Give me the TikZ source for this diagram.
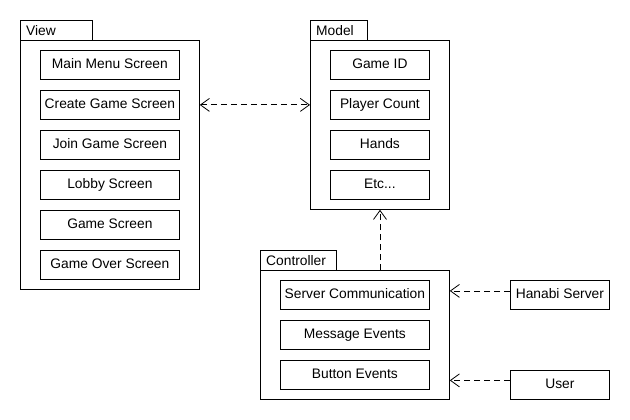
\documentclass[tikz,border=0pt]{standalone}
\usepackage{fontspec}
\setmainfont{Liberation Sans}
\usetikzlibrary{arrows.meta}
\begin{document}
\begin{tikzpicture}[x=1pt,y=-1pt,
  every node/.style={font=\fontsize{13.8}{16}\selectfont},
  item/.style={draw,line width=0.8pt,minimum width=#1,minimum height=29pt,inner sep=0pt,anchor=north west,text height=10pt,text depth=2.5pt},
  item/.default=139pt,
  pkg/.style={draw,line width=0.8pt,anchor=north west,inner sep=0pt},
  tab/.style={draw,line width=0.8pt,anchor=north west,inner sep=0pt,minimum height=20pt,text depth=0pt},
  tablabel/.style={anchor=base west,inner sep=0pt},
  dep/.style={line width=0.8pt,dash pattern=on 6pt off 4pt,-{Straight Barb[length=9pt,width=13pt]}},
  bidep/.style={line width=0.8pt,dash pattern=on 6pt off 4pt,{Straight Barb[length=9pt,width=13pt]}-{Straight Barb[length=9pt,width=13pt]}}
]
\useasboundingbox (0,0) rectangle (630,420);
% View
\node[tab,minimum width=72pt] (viewtab) at (20,20) {};
\node[tablabel] at (26,35.5) {View};
\node[pkg,minimum width=179pt,minimum height=249pt] (view) at (20,40) {};
\node[item] (v1) at (40,50) {Main Menu Screen};
\node[item] (v2) at (40,90) {Create Game Screen};
\node[item] (v3) at (40,130) {Join Game Screen};
\node[item] (v4) at (40,170) {Lobby Screen};
\node[item] (v5) at (40,210) {Game Screen};
\node[item] (v6) at (40,250) {Game Over Screen};
% Model
\node[tab,minimum width=57pt] (modeltab) at (310,20) {};
\node[tablabel] at (316,35.5) {Model};
\node[pkg,minimum width=139pt,minimum height=169pt] (model) at (310,40) {};
\node[item=99pt] (m1) at (330,50) {Game ID};
\node[item=99pt] (m2) at (330,90) {Player Count};
\node[item=99pt] (m3) at (330,130) {Hands};
\node[item=99pt] (m4) at (330,170) {Etc...};
% Controller
\node[tab,minimum width=76pt] (ctrltab) at (260,250) {};
\node[tablabel] at (266,265.5) {Controller};
\node[pkg,minimum width=189pt,minimum height=129pt] (ctrl) at (260,270) {};
\node[item=149pt] (c1) at (280,280) {Server Communication};
\node[item=149pt] (c2) at (280,320) {Message Events};
\node[item=149pt] (c3) at (280,360) {Button Events};
% External
\node[item=99pt] (hs) at (510,280) {Hanabi Server};
\node[item=99pt] (user) at (510,370) {User};
% Connectors
\draw[bidep] (view.east |- v2.east) -- (model.west |- v2.east);
\coordinate (ctop) at (380,270);
\draw[dep] (ctop) -- (ctop |- model.south);
\coordinate (hstart) at ([yshift=4pt]hs.west);
\draw[dep] (hstart) -- (ctrl.east |- hstart);
\coordinate (ustart) at ([yshift=4.5pt]user.west);
\draw[dep] (ustart) -- (ctrl.east |- ustart);
\end{tikzpicture}
\end{document}
